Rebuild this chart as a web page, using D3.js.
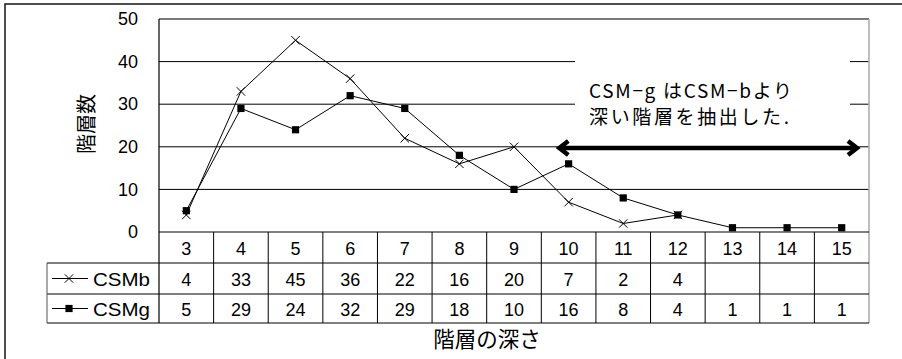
<!DOCTYPE html>
<html><head><meta charset="utf-8">
<script src="https://cdn.jsdelivr.net/npm/d3@7"></script>
<style>
html,body{margin:0;padding:0;background:#fff;}
svg{display:block;}
text{font-family:"Liberation Sans",Arial,"Noto Sans CJK JP",sans-serif;fill:#000;}
.jp{font-family:"Noto Sans CJK JP","Liberation Sans",sans-serif;}
</style></head>
<body>
<svg id="chart" width="902" height="359"></svg>
<script>
const categories = ["3","4","5","6","7","8","9","10","11","12","13","14","15"];
const csmb = [4,33,45,36,22,16,20,7,2,4,null,null,null];
const csmg = [5,29,24,32,29,18,10,16,8,4,1,1,1];
const seriesNames = ["CSMb","CSMg"];
const yTicks = [0,10,20,30,40,50];
const yTitle = "階層数";
const xTitle = "階層の深さ";
const noteLines = ["CSM−g はCSM−bより","深い階層を抽出した."];

const svg = d3.select("#chart");
const L = 159, R = 869, T = 19, B = 232;
const rowH = [31, 31, 29];
const legendLeft = 47;

const x = d3.scaleBand().domain(categories).range([L, R]).padding(0);
const y = d3.scaleLinear().domain([0, 50]).range([B, T]);
const cx = c => x(c) + x.bandwidth() / 2;

// outer frame
svg.append("rect").attr("x",5).attr("y",4).attr("width",920).attr("height",400)
  .attr("fill","none").attr("stroke","#222").attr("stroke-width",1.6);

// gridlines
svg.append("g").selectAll("line").data(yTicks.filter(t => t > 0)).join("line")
  .attr("x1", L).attr("x2", R).attr("y1", d => y(d)).attr("y2", d => y(d))
  .attr("stroke", "#000").attr("stroke-width", 1);

// y axis labels
const yAxis = d3.axisLeft(y).tickValues(yTicks).tickSize(0).tickPadding(21);
const ya = svg.append("g").attr("transform", `translate(${L},0)`).call(yAxis);
ya.select(".domain").remove();
ya.selectAll("text").attr("font-size", 18).attr("font-family", "Liberation Sans, Arial, sans-serif").attr("fill","#000");

// plot frame
svg.append("line").attr("x1",L).attr("x2",R).attr("y1",T).attr("y2",T).attr("stroke","#7a7a7a").attr("stroke-width",1.5);
svg.append("line").attr("x1",R).attr("x2",R).attr("y1",T).attr("y2",B+rowH[0]+rowH[1]+rowH[2]).attr("stroke","#aaa").attr("stroke-width",1.5);

// table
const r0 = B, r1 = B + rowH[0], r2 = r1 + rowH[1], r3 = r2 + rowH[2];
const tg = svg.append("g");
tg.append("line").attr("x1",L).attr("x2",R).attr("y1",r0).attr("y2",r0).attr("stroke","#000").attr("stroke-width",1.2);
[r1,r2,r3].forEach(rr => tg.append("line").attr("x1",legendLeft).attr("x2",R).attr("y1",rr).attr("y2",rr).attr("stroke","#000").attr("stroke-width",1));
tg.append("line").attr("x1",legendLeft).attr("x2",legendLeft).attr("y1",r1).attr("y2",r3).attr("stroke","#555").attr("stroke-width",1);
tg.append("line").attr("x1",L).attr("x2",L).attr("y1",T).attr("y2",r3).attr("stroke","#000").attr("stroke-width",1.2);
tg.selectAll("line.col").data(categories.slice(1)).join("line").attr("class","col")
  .attr("x1", d => x(d)).attr("x2", d => x(d)).attr("y1", r0).attr("y2", r3)
  .attr("stroke","#000").attr("stroke-width",1);

tg.selectAll("text.cat").data(categories).join("text").attr("class","cat")
  .attr("x", d => cx(d)).attr("y", (r0 + r1)/2 + 7.5).attr("text-anchor","middle").attr("font-size",18).text(d => d);
const rowsData = [[csmb, (r1+r2)/2 + 7.5],[csmg, (r2+r3)/2 + 7.5]];
rowsData.forEach(([vals, yy]) => {
  tg.selectAll(null).data(categories).join("text")
    .attr("x", d => cx(d)).attr("y", yy).attr("text-anchor","middle").attr("font-size",18)
    .text((d,i) => vals[i] == null ? "" : vals[i]);
});

// marker drawers
function xMark(g, px, py, s=4.2){
  g.append("path").attr("d",`M${px-s},${py-s}L${px+s},${py+s}M${px-s},${py+s}L${px+s},${py-s}`)
    .attr("stroke","#000").attr("stroke-width",1).attr("fill","none");
}
function sqMark(g, px, py, s=3.6){
  g.append("rect").attr("x",px-s).attr("y",py-s).attr("width",2*s).attr("height",2*s).attr("fill","#000");
}

// legend
[[r1,r2,xMark],[r2,r3,sqMark]].forEach(([a,b,fn],i) => {
  const my = (a+b)/2;
  tg.append("line").attr("x1",legendLeft+5).attr("x2",legendLeft+41).attr("y1",my).attr("y2",my).attr("stroke","#000").attr("stroke-width",1);
  fn(tg, legendLeft+22, my);
  tg.append("text").attr("x",legendLeft+46).attr("y",my+7).attr("font-size",18)
    .attr("textLength",57).attr("lengthAdjust","spacingAndGlyphs").text(seriesNames[i]);
});

// annotation box + text
const noteG = svg.append("g");
const noteRect = noteG.append("rect").attr("fill","#fff");
const noteText = noteG.append("text").attr("class","jp").attr("font-size",19);
noteText.selectAll("tspan").data(noteLines).join("tspan")
  .attr("x", 589).attr("y", (d,i) => 97.5 + i*26.5)
  .attr("textLength", (d,i) => i === 0 ? 203 : 200).attr("lengthAdjust","spacing").text(d => d);
const bb = noteText.node().getBBox();
noteRect.attr("x", bb.x - 14).attr("y", y(40) - 8).attr("width", 275).attr("height", y(30) - y(40) + 20);

// lines
const lineGen = d3.line().defined(d => d.v != null).x(d => cx(d.c)).y(d => y(d.v));
const lg = svg.append("g");
[[csmb, xMark],[csmg, sqMark]].forEach(([vals, fn]) => {
  const pts = categories.map((c,i) => ({c, v: vals[i]}));
  lg.append("path").attr("d", lineGen(pts)).attr("fill","none").attr("stroke","#000").attr("stroke-width",1);
  pts.filter(p => p.v != null).forEach(p => fn(lg, cx(p.c), y(p.v)));
});

// double arrow
const ay = y(19.7);
const ax1 = x("10") + 17, ax2 = x("15") + x.bandwidth() - 11;
const ag = svg.append("g").attr("stroke","#000").attr("fill","none").attr("stroke-width",4.5);
ag.append("line").attr("x1",ax1+2).attr("x2",ax2-2).attr("y1",ay).attr("y2",ay);
ag.append("path").attr("d",`M${ax1+10},${ay-7}L${ax1+1},${ay}L${ax1+10},${ay+7}`).attr("stroke-linejoin","miter");
ag.append("path").attr("d",`M${ax2-10},${ay-7}L${ax2-1},${ay}L${ax2-10},${ay+7}`).attr("stroke-linejoin","miter");

// titles
svg.append("text").attr("class","jp").attr("font-size",20)
  .attr("transform",`translate(94,124) rotate(-90)`).attr("text-anchor","middle").text(yTitle);
svg.append("text").attr("class","jp").attr("font-size",21.5)
  .attr("x", 487).attr("y", 347).attr("text-anchor","middle").text(xTitle);
</script>
</body></html>
